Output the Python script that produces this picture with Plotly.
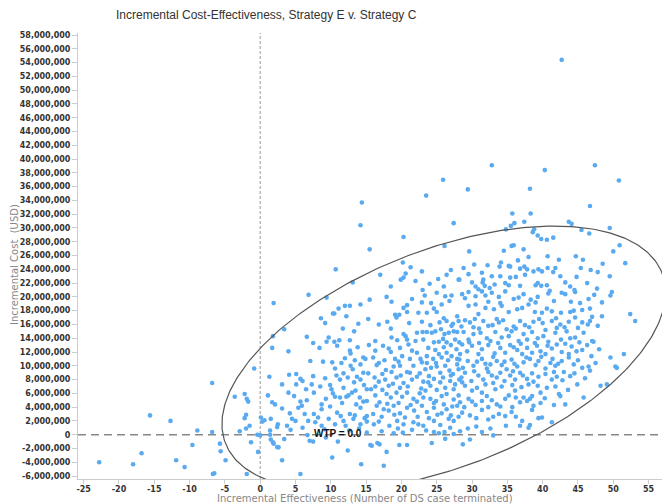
import numpy as np
import plotly.graph_objects as go

# ---------------- data (incremental effectiveness, incremental cost in millions USD) ----------------
pts_left = [(-22.8,-4.0),(-18.0,-4.3),(-16.8,-2.7),(-15.6,2.8),(-12.7,2.0),(-11.9,-3.7),(-10.7,-4.7),(-9.6,-1.5),
    (-8.9,0.6),(-6.8,7.5),(-6.8,0.4),(-6.7,-5.7),(-6.5,-5.6),(-5.7,-1.3),(-5.6,-2.4),(-4.9,-3.7),(-3.6,5.5),
    (-2.2,5.9),(-1.9,5.2),(-1.7,4.8),(-0.85,9.6),(-2.0,2.9),(-2.2,2.4),(-1.5,1.3),(-2.9,0.5),(-2.0,0.9),
    (-1.3,-1.1),(-0.3,-2.5),(-1.9,-5.7),(0.1,2.5),(0.6,2.1),(0.3,1.9),(-0.4,0.0),(0.0,-0.1),(1.3,8.4),
    (1.7,12.6),(1.8,14.3),(1.1,5.7),(1.7,4.7),(2.1,4.4),(1.5,2.3),(1.4,0.6),(1.4,0.0),(1.5,-0.7),(1.8,-1.1),
    (1.9,-1.3),(2.4,1.1),(2.4,-1.8),(1.9,19.1)]

pts_near_zero = [(2.6,-1.84),(3.1,-3.7),(3.4,-0.64),(5.7,-5.7),(6.7,-0.06),(7.0,-0.88),(7.5,-1.0),(9.3,-0.4),
    (10.2,-3.3),(11.0,-1.0),(12.4,-2.3),(14.3,-4.3),(15.1,0.3),(15.6,-1.5),(15.8,-1.6),(16.6,-1.2),(16.9,-1.4),
    (17.5,-4.5),(17.9,-2.5),(18.9,0.2),(19.7,-1.5),(20.2,0.3),(20.8,-1.5),(24.3,-1.2),(24.6,0.4),(25.3,0.2),
    (26.1,0.4),(26.2,-0.6),(27.4,0.1),(28.7,-1.4),(29.7,-0.7),(31.4,0.4),(33.0,-0.1)]

pts_mid_left = [(6.85,20.3),(9.4,19.9),(17.9,20.0),(25.0,20.6),(26.2,20.1),(27.1,20.2),(14.2,18.9),(12.0,18.7),
    (12.7,18.7),(20.8,18.8),(20.3,18.4),(22.9,19.2),(24.2,19.1),(24.6,18.3),(25.7,18.9),(27.9,17.2),
    (10.3,17.6),(10.5,17.6),(11.1,18.3),(8.6,16.9),(12.2,17.2),(15.3,16.8),(19.1,17.4),(19.7,17.4),(19.3,17.0),
    (20.8,17.8),(22.4,17.7),(23.6,17.7),(25.0,17.8),(26.0,16.9),(26.4,16.5),(27.3,16.1),(28.1,16.5),(27.1,15.8),
    (3.4,15.3),(11.7,15.4),(13.3,15.0),(18.5,15.4),(20.3,14.6),(20.6,14.3),(22.2,14.8),(23.0,14.9),(23.6,14.9),
    (24.3,14.8),(24.8,15.0),(25.6,15.3),(26.1,14.6),(26.7,14.8),(27.4,15.0),(27.9,14.9),
    (6.6,14.2),(7.5,13.3),(9.4,13.5),(9.7,14.1),(10.5,13.5),(11.2,13.7),(12.7,13.7),(16.3,13.6),(19.4,13.7),
    (18.6,14.1),(20.8,13.8),(22.0,13.6),(23.1,13.8),(24.6,13.4),(25.3,13.5),(25.9,13.9),(26.4,13.4),(27.0,13.0),
    (27.6,13.8),(28.2,13.4),
    (4.0,12.1),(7.1,10.7),(12.7,12.2),(12.8,11.8),(14.6,11.2),(14.9,11.0),(16.3,12.2),(18.2,12.5),(18.5,12.0),
    (19.1,11.0),(20.1,11.4),(21.5,12.2),(22.2,11.9),(22.7,11.0),(23.6,11.4),(24.5,11.0),(25.3,11.7),(25.7,11.2),
    (26.4,11.9),(27.1,11.4),(27.9,11.0),(28.3,11.7),
    (4.1,8.7),(5.1,8.8),(5.7,8.1),(6.0,7.8),(10.2,10.5),(10.6,9.6),(11.5,10.4),(11.8,8.9),(12.8,10.0),(13.1,9.5),
    (14.2,10.2),(14.6,9.0),(16.5,10.1),(16.8,10.4),(17.8,9.4),(18.6,9.1),(18.9,9.9),(19.8,10.0),(20.8,9.1),
    (21.7,10.0),(22.6,8.9),(23.4,9.5),(23.6,10.4),(24.2,9.7),(25.0,9.9),(25.5,9.0),(26.2,10.0),(26.8,9.3),
    (27.3,8.8),(27.9,10.2),(28.1,9.5),
    (3.1,7.3),(5.1,7.3),(7.3,7.3),(9.9,7.2),(10.1,6.6),(11.3,8.0),(12.4,8.3),(13.3,7.6),(14.2,8.0),(15.1,6.6),
    (15.7,6.6),(16.8,7.7),(17.7,8.0),(18.2,7.1),(18.8,7.4),(19.3,8.3),(20.3,7.5),(21.5,8.0),(22.2,8.4),(23.1,7.7),
    (24.1,7.1),(24.6,8.1),(25.5,7.6),(26.2,6.8),(26.9,7.8),(27.6,7.3),(28.2,8.0),
    (4.0,6.1),(5.7,4.8),(7.6,6.1),(8.7,4.4),(10.3,6.0),(10.6,5.5),(11.3,5.4),(12.2,5.5),(12.5,5.7),(13.0,6.1),
    (14.1,5.4),(15.1,4.9),(16.3,5.7),(17.9,5.9),(18.5,5.4),(19.3,6.1),(20.1,5.5),(20.8,6.1),(21.7,5.2),(22.6,6.0),
    (23.4,6.4),(24.1,5.2),(24.9,4.9),(25.7,5.6),(26.4,5.9),(27.4,5.1),(28.1,5.7),
    (3.1,3.8),(4.2,3.1),(5.4,3.9),(5.9,4.2),(7.6,3.0),(8.7,3.7),(9.9,4.1),(10.9,3.2),(12.7,3.0),(13.4,2.8),
    (14.2,3.9),(15.1,2.7),(16.5,4.2),(17.5,3.7),(18.2,3.5),(18.9,4.2),(19.8,3.1),(20.8,3.9),(21.8,3.5),(22.9,4.2),
    (23.6,3.3),(24.6,3.9),(25.7,3.1),(26.4,3.7),(27.0,2.8),(27.9,4.2),
    (2.5,1.5),(3.8,1.3),(5.0,2.0),(6.8,2.0),(7.8,1.8),(8.7,1.3),(9.7,2.3),(10.6,1.5),(11.8,2.0),(13.2,2.3),
    (14.2,1.5),(15.1,1.9),(16.1,1.5),(16.8,1.9),(18.3,1.3),(19.4,2.0),(20.3,1.5),(21.7,1.8),(22.4,1.5),(23.1,1.3),
    (24.6,2.0),(25.5,1.4),(27.4,2.0)]

pts_mid_right = [(28.6,20.4),(29.5,20.7),(30.5,20.1),(31.4,20.8),(31.9,20.2),(32.8,20.6),(33.8,20.0),(34.7,20.8),
    (35.9,19.7),(37.3,20.4),(39.0,19.2),(39.3,20.0),(40.8,20.5),(42.7,20.6),(43.2,20.4),(44.6,20.7),(45.3,19.1),
    (46.5,19.7),(48.4,19.2),(49.6,20.2),(49.8,20.7),
    (29.5,18.7),(30.5,18.9),(30.9,17.5),(31.9,18.4),(33.1,18.2),(34.2,18.7),(35.2,17.8),(36.4,18.2),(37.1,18.4),
    (38.0,18.9),(38.9,17.8),(39.9,17.7),(40.6,18.3),(41.3,17.9),(42.6,17.7),(43.9,17.8),(44.4,18.0),(45.6,18.1),
    (46.7,18.3),(47.0,17.1),(48.4,17.2),(52.4,17.5),
    (29.0,16.6),(29.7,16.3),(30.4,16.8),(31.0,15.4),(31.6,16.5),(32.3,15.8),(33.5,16.8),(33.8,16.3),(34.9,15.3),
    (35.9,15.7),(36.8,16.5),(37.5,15.9),(38.7,16.4),(39.5,16.8),(40.4,15.2),(41.3,16.5),(42.0,15.5),(42.5,16.0),
    (43.7,16.4),(44.6,17.0),(45.6,16.3),(46.4,16.0),(46.7,16.5),(53.1,16.5),
    (28.8,14.9),(29.5,13.8),(30.2,14.6),(31.2,14.8),(32.1,14.0),(32.6,13.6),(33.3,14.9),(34.2,14.1),(35.2,14.3),
    (35.6,15.0),(36.6,13.6),(37.3,14.6),(37.8,13.8),(38.5,14.9),(39.3,14.0),(40.1,14.3),(40.8,13.5),(41.8,14.8),
    (42.6,13.8),(43.4,15.0),(43.9,14.0),(44.6,14.1),(45.8,14.8),(47.0,13.6),(47.2,13.5),
    (28.6,13.1),(29.3,12.1),(30.0,12.9),(30.9,11.7),(31.4,12.4),(32.3,13.0),(33.2,11.8),(34.0,12.6),(34.7,11.9),
    (35.4,13.0),(36.4,12.3),(37.1,11.7),(37.8,12.6),(38.5,11.9),(39.2,12.9),(39.7,12.1),(40.4,11.7),(41.3,12.5),
    (42.0,13.1),(42.7,12.0),(43.7,11.7),(44.1,12.8),(44.8,12.1),(45.6,12.3),(46.3,13.0),(46.9,11.4),(49.6,11.2),
    (51.5,11.7),
    (28.7,9.7),(29.4,10.7),(30.2,10.0),(31.4,11.0),(32.1,9.6),(32.6,10.2),(33.5,10.7),(34.2,10.1),(34.9,9.5),
    (35.6,10.9),(36.4,9.9),(37.3,10.5),(38.2,11.0),(39.0,10.1),(39.4,10.7),(40.4,9.6),(41.1,10.4),(41.8,10.0),
    (42.7,10.7),(43.7,11.2),(44.4,10.2),(45.6,9.7),(46.5,9.9),(46.7,9.3),(50.3,9.9),(50.5,9.7),
    (29.0,9.0),(29.9,7.8),(30.9,8.6),(31.6,8.0),(32.3,9.1),(33.5,8.3),(34.6,7.8),(35.4,8.6),(36.1,8.0),(36.8,9.0),
    (37.8,8.1),(38.7,7.7),(39.4,8.4),(40.4,8.8),(41.3,8.0),(42.0,8.4),(43.0,9.1),(43.9,8.5),(44.9,7.3),(48.2,7.1),
    (49.1,7.3),
    (29.0,7.1),(30.0,6.4),(30.7,6.8),(31.4,6.1),(32.1,5.6),(33.3,6.6),(34.2,7.0),(35.2,5.7),(36.1,6.4),(37.3,5.4),
    (38.5,5.6),(39.7,6.1),(40.6,6.8),(42.3,5.9),(42.5,5.6),(45.8,5.4),
    (28.3,4.7),(29.5,5.2),(30.5,4.3),(31.4,4.9),(32.3,4.0),(33.5,4.4),(34.7,5.2),(35.7,4.0),(36.8,4.7),(37.8,4.9),
    (38.7,4.2),(39.7,4.6),(41.6,4.3),(43.2,4.4),
    (28.6,3.2),(29.7,2.8),(31.4,3.6),(32.3,2.2),(33.8,3.0),(34.7,2.7),(35.6,3.3),(37.1,2.0),(38.5,3.6),(39.4,2.4),
    (39.9,2.5),(41.3,1.8),(29.4,0.9),(36.8,1.3),(38.0,1.0),(38.2,1.4)]

pts_upper = [(29.6,26.6),(34.5,26.7),(35.6,27.4),(35.9,27.5),(37.3,26.9),(38.0,25.8),(40.7,25.9),(42.3,25.4),
    (44.7,25.9),(45.7,25.4),(48.5,24.8),(28.8,24.2),(30.3,24.7),(31.4,23.5),(32.2,24.6),(33.9,24.4),(34.1,25.0),
    (35.2,24.5),(35.4,24.4),(36.5,25.3),(36.8,24.1),(37.4,24.4),(37.8,24.0),(38.7,23.7),(39.4,24.0),(39.9,23.7),
    (40.7,24.2),(41.5,23.6),(41.8,24.2),(45.4,24.2),(47.8,23.6),(49.5,23.0),(28.2,22.5),(31.6,22.5),(31.5,22.1),
    (35.4,22.8),(34.7,22.0),(34.0,23.0),(30.5,21.5),(30.9,21.1),(31.8,21.6),(35.2,21.7),(36.8,21.6),(39.0,21.7),
    (39.3,22.0),(39.8,21.6),(40.6,21.7),(43.2,22.1),(43.9,21.5),(46.3,22.0),(47.7,21.2),(51.7,24.9),(50.9,27.5),
    (50.0,26.6),(49.5,30.0),
    (32.8,39.1),(40.3,38.4),(47.4,39.1),(29.4,35.6),(38.2,35.7),(50.8,36.9),(46.7,33.2),(35.7,32.1),(38.3,32.1),
    (36.0,30.7),(35.5,30.3),(37.4,30.9),(34.8,29.8),(38.8,29.8),(38.6,29.4),(43.7,30.9),(44.1,30.6),(45.5,29.7),
    (46.6,29.2),(39.3,28.9),(39.8,28.4),(40.6,28.3),(41.5,28.6),
    (25.9,37.0),(23.5,34.7),(14.4,33.7),(14.2,30.4),(27.4,30.7),(20.3,28.7),(15.5,26.9),(26.1,27.4),(10.7,24.0),
    (20.2,25.0),(21.3,24.3),(22.9,23.7),(27.0,23.9),(17.0,23.2),(20.6,23.4),(20.3,22.8),(19.9,22.5),(24.0,21.9),
    (28.1,22.5),(13.1,22.1),(42.7,54.4)]

pts_core_extra = [(15.5,19.6),(18.6,19.3),(21.5,19.7),(23.3,20.2),(26.8,19.4),(29.0,19.8),(32.3,19.3),(34.0,19.1),
    (36.6,19.9),(38.3,19.6),(41.6,19.4),(44.0,19.3),(47.3,20.3),
    (9.2,16.2),(13.9,16.1),(16.8,16.0),(18.0,16.4),(21.1,16.2),(22.9,16.4),(24.1,15.9),(25.4,16.3),(28.5,15.7),
    (30.2,15.6),(32.9,15.9),(34.4,16.6),(36.2,15.4),(38.1,15.6),(40.0,16.2),(41.9,16.9),(43.1,15.6),(45.0,15.5),
    (47.8,15.8),
    (8.4,12.6),(10.9,12.9),(13.8,12.7),(15.4,13.0),(17.4,12.9),(19.8,12.6),(21.0,13.1),(23.8,12.6),(24.8,12.3),
    (26.0,12.7),(27.8,12.4),(29.6,13.4),(31.0,13.3),(33.7,13.3),(35.9,12.7),(36.9,13.2),(38.9,13.3),(40.7,12.9),
    (43.2,13.2),(45.2,13.4),(48.0,12.4),
    (8.9,10.6),(12.0,11.1),(13.4,10.8),(16.0,11.2),(17.6,10.8),(19.6,10.6),(21.2,11.0),(22.9,10.5),(24.9,10.4),
    (26.6,10.8),(28.2,10.9),(30.7,10.6),(31.9,10.3),(33.0,11.3),(34.6,10.6),(36.0,10.3),(37.7,11.2),(39.8,11.3),
    (41.4,11.0),(42.2,10.3),(45.0,10.8),(47.5,10.4),
    (7.5,8.5),(9.2,8.2),(10.8,8.6),(13.7,8.4),(15.3,8.9),(16.2,8.3),(17.3,8.8),(19.9,8.6),(21.2,9.0),(23.9,8.5),
    (25.9,8.3),(27.0,8.6),(28.5,8.3),(30.3,9.2),(32.8,8.6),(34.0,9.0),(35.8,9.2),(37.2,8.6),(38.5,8.9),(41.6,9.1),
    (42.8,7.9),(44.5,8.9),(46.0,8.2),
    (6.5,6.6),(8.5,7.0),(11.8,6.8),(13.5,6.4),(14.7,7.2),(16.3,7.0),(17.3,6.5),(19.8,6.8),(20.9,7.0),(22.8,6.7),
    (23.8,7.6),(25.0,6.5),(27.4,6.6),(28.6,7.6),(31.9,7.3),(33.0,7.5),(35.7,7.2),(37.0,6.9),(38.0,7.3),(39.3,7.1),
    (41.8,7.0),(43.6,6.5),
    (4.8,5.6),(6.6,5.0),(9.3,5.2),(11.6,4.6),(13.6,4.4),(14.6,4.8),(16.9,4.7),(18.0,4.5),(19.6,4.6),(21.3,4.3),
    (22.2,4.8),(23.1,5.4),(24.6,4.6),(26.0,4.4),(27.2,4.1),(28.9,4.0),(30.0,4.8),(32.8,5.0),(34.0,4.1),(36.2,5.4),
    (38.2,5.2),(40.3,5.3),
    (4.5,2.3),(6.3,3.0),(8.2,2.5),(11.4,2.7),(12.1,1.3),(14.8,2.4),(16.0,3.0),(17.2,2.6),(19.0,2.9),(20.5,2.5),
    (22.3,2.6),(23.9,2.4),(25.1,2.9),(26.7,2.3),(28.1,2.6),(30.6,2.4),(33.0,2.6),(36.2,2.6),
    (4.3,0.7),(6.0,1.0),(9.1,0.8),(12.6,0.6),(14.0,0.9),(17.2,0.5),(19.5,0.9),(21.5,0.7),(23.5,0.6),(26.9,1.0),
    (28.3,0.5),(30.6,1.2),(32.6,0.9),(34.8,1.3),
    (22.0,22.3),(25.2,22.6),(26.4,23.2),(29.5,23.3),(30.0,22.1),(32.8,23.0),(33.2,21.8),(36.2,22.9),(37.5,23.2),
    (42.5,23.0),(44.8,22.9),(46.8,23.9),(18.5,21.5),(23.0,21.0),(26.0,21.5),(32.5,21.3),(41.0,20.9),(44.5,21.0)]

# 95% confidence ellipse (centre and covariance-like shape, effectiveness x cost[M])
ELL_CENTER = (26.0, 11.1)
ELL_SXX, ELL_SXY, ELL_SYY = 987.0, 300.0, 368.0

X_TICKS = list(range(-25, 56, 5))
Y_TICKS = list(range(-6_000_000, 58_000_001, 2_000_000))
WTP_LABEL = "WTP = 0.0"

# ---------------- figure ----------------
all_pts = pts_left + pts_near_zero + pts_mid_left + pts_mid_right + pts_upper + pts_core_extra
xs = [p[0] for p in all_pts]
ys = [p[1] * 1e6 for p in all_pts]

S = np.array([[ELL_SXX, ELL_SXY], [ELL_SXY, ELL_SYY]])
K = np.linalg.cholesky(S)
t = np.linspace(0, 2 * np.pi, 361)
E = K @ np.vstack([np.cos(t), np.sin(t)])
ex = E[0] + ELL_CENTER[0]
ey = (E[1] + ELL_CENTER[1]) * 1e6

# plot-area geometry (pixels) used to place free text
L, R, T, B = 78, 3, 33, 25
PW, PH = 665 - L - R, 504 - T - B


def px(xp):
    return (xp - L) / PW


def py(yp):
    return (504 - B - yp) / PH


fig = go.Figure()
fig.add_trace(go.Scatter(x=xs, y=ys, mode="markers",
                         marker=dict(size=4.6, color="#5aaaf0", line=dict(width=0)),
                         hoverinfo="skip", showlegend=False))
fig.add_trace(go.Scatter(x=ex, y=ey, mode="lines", line=dict(color="#555555", width=1.2),
                         hoverinfo="skip", showlegend=False))

fig.add_shape(type="line", xref="x", yref="paper", x0=0, x1=0, y0=0, y1=1,
              line=dict(color="#999999", width=1, dash="3px,2px"), layer="below")
fig.add_shape(type="line", xref="paper", yref="y", x0=0, x1=1, y0=0, y1=0,
              line=dict(color="#888888", width=1.5, dash="8px,5px"), layer="below")

fig.add_annotation(x=11, y=0, xref="x", yref="y", text="<b>" + WTP_LABEL + "</b>", showarrow=False,
                   font=dict(family="Liberation Sans, Arial", size=10, color="#111111"),
                   yanchor="bottom", yshift=-6)

tick_font = dict(family="DejaVu Sans", size=8, color="#333333", weight="bold")

fig.update_xaxes(range=[-25.8, 56.9], tickvals=X_TICKS, ticktext=[str(v) for v in X_TICKS],
                 showgrid=False, zeroline=False, showline=True, linecolor="#cccccc", linewidth=1,
                 ticks="outside", ticklen=4, tickcolor="#cccccc", tickfont=tick_font,
                 ticklabelstandoff=-2)
fig.update_yaxes(range=[-6_430_000, 58_300_000], tickvals=Y_TICKS,
                 ticktext=[f"{v:,}" for v in Y_TICKS],
                 showgrid=False, zeroline=False, showline=True, linecolor="#cccccc", linewidth=1,
                 ticks="outside", ticklen=5, tickcolor="#cccccc", tickfont=tick_font)

fig.add_annotation(x=px(266), y=py(15), xref="paper", yref="paper", xanchor="center", yanchor="middle",
                   text="Incremental Cost-Effectiveness, Strategy E v. Strategy C", showarrow=False,
                   font=dict(family="Liberation Sans, Arial", size=12, color="#333333"))
fig.add_annotation(x=px(365), y=py(498.5), xref="paper", yref="paper",
                   xanchor="center", yanchor="middle",
                   text="Incremental Effectiveness (Number of DS case terminated)", showarrow=False,
                   font=dict(family="DejaVu Sans", size=10, color="#888888"))
fig.add_annotation(x=px(14), y=py(265), xref="paper", yref="paper",
                   xanchor="center", yanchor="middle", textangle=-90,
                   text="Incremental Cost  (USD)", showarrow=False,
                   font=dict(family="DejaVu Sans", size=10, color="#888888"))

fig.update_layout(width=665, height=504, margin=dict(l=L, r=R, t=T, b=B),
                  paper_bgcolor="white", plot_bgcolor="white")

fig.write_html("out.html", config={"displayModeBar": False},
               post_script="document.body.style.margin='0';document.body.style.overflow='hidden';")
